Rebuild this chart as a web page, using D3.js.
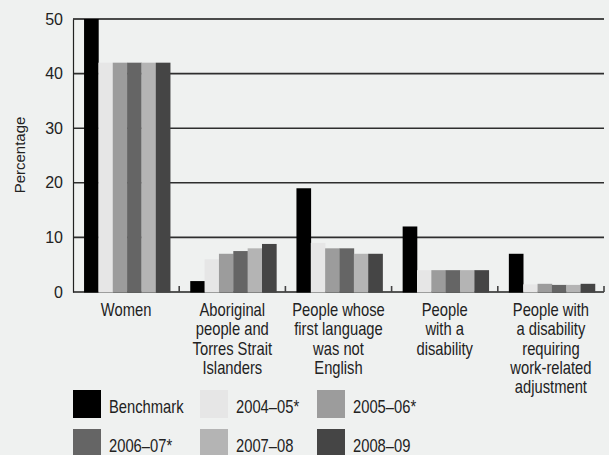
<!DOCTYPE html>
<html><head><meta charset="utf-8">
<script src="https://cdn.jsdelivr.net/npm/d3@7"></script>
<style>
html,body{margin:0;padding:0;background:#eff1f0;}
svg{display:block;}
text{font-family:"Liberation Sans",Arial,sans-serif;fill:#222;}
</style></head>
<body><svg id="c" width="609" height="455"></svg>
<script>
const categories = ["Women","Aboriginal people and Torres Strait Islanders","People whose first language was not English","People with a disability","People with a disability requiring work-related adjustment"];
const categoryLines = [["Women"],["Aboriginal","people and","Torres Strait","Islanders"],["People whose","first language","was not","English"],["People","with a","disability"],["People with","a disability","requiring","work-related","adjustment"]];
const seriesNames = ["Benchmark","2004–05*","2005–06*","2006–07*","2007–08","2008–09"];
const seriesColors = ["#000000","#e6e6e6","#9c9c9c","#656565","#b4b4b4","#454545"];
const benchmark = [50,2,19,12,7];
const v2004_05 = [42,6,9,4,1.4];
const v2005_06 = [42,7,8,4,1.5];
const v2006_07 = [42,7.5,8,4,1.3];
const v2007_08 = [42,8,7,4,1.3];
const v2008_09 = [42,8.8,7,4,1.5];
const yTicks = [0,10,20,30,40,50];
const yLabel = "Percentage";

(function(){
const seriesValues = [benchmark,v2004_05,v2005_06,v2006_07,v2007_08,v2008_09];
const svg = d3.select("#c");
const pLeft=73, pRight=604, pTop=19, pBottom=292;
const sx = 0.82;

const x0 = d3.scaleBand().domain(categories).range([pLeft,pRight]).padding(0);
const x1 = d3.scaleBand().domain(seriesNames).range([0,x0.bandwidth()]).paddingInner(0).paddingOuter(0.7).align(0.55);
const y = d3.scaleLinear().domain([0,50]).range([pBottom,pTop]);
const color = d3.scaleOrdinal().domain(seriesNames).range(seriesColors);

// gridlines
svg.append("g").selectAll("line").data(yTicks.filter(d=>d>0)).join("line")
  .attr("x1",pLeft).attr("x2",pRight).attr("y1",d=>y(d)).attr("y2",d=>y(d))
  .attr("stroke",d=>d===50?"#4a4a4a":"#2e2e2e").attr("stroke-width",d=>d===50?2:1.6);

// y axis
const yAxis = d3.axisLeft(y).tickValues(yTicks).tickSize(0).tickPadding(10).tickFormat(d3.format("d"));
const ya = svg.append("g").attr("transform",`translate(${pLeft},0)`).call(yAxis);
ya.select(".domain").attr("stroke","#222").attr("stroke-width",1.2);
ya.selectAll("text").style("font-size","16px").style("font-family","Liberation Sans, Arial, sans-serif").attr("fill","#222");

// x axis
const xa = svg.append("g").attr("transform",`translate(0,${pBottom})`);
xa.append("line").attr("x1",pLeft).attr("x2",pRight).attr("y1",0).attr("y2",0).attr("stroke","#222").attr("stroke-width",1.6);
xa.selectAll("line.tk").data(categories).join("line").attr("class","tk")
  .attr("x1",d=>x0(d)+x0.bandwidth()).attr("x2",d=>x0(d)+x0.bandwidth())
  .attr("y1",0).attr("y2",-6).attr("stroke","#444").attr("stroke-width",1.6);

// bars
const groups = svg.append("g").selectAll("g").data(categories).join("g")
  .attr("transform",d=>`translate(${x0(d)},0)`);
groups.selectAll("rect").data((d,i)=>seriesNames.map((s,j)=>({s,v:seriesValues[j][i]}))).join("rect")
  .attr("x",d=>x1(d.s)).attr("width",x1.bandwidth()+0.3)
  .attr("y",d=>y(d.v)).attr("height",d=>y(0)-y(d.v)+0.5)
  .attr("fill",d=>color(d.s));

// category labels
const cl = svg.append("g").selectAll("text").data(categories).join("text")
  .attr("text-anchor","middle").style("font-size","18px")
  .attr("transform",d=>`translate(${x0(d)+x0.bandwidth()/2},316) scale(${sx},1)`);
cl.selectAll("tspan").data((d,i)=>categoryLines[i]).join("tspan")
  .attr("x",0).attr("y",(d,i)=>i*19.3).text(d=>d);

// y label
svg.append("text").attr("transform","translate(25,155) rotate(-90)")
  .attr("text-anchor","middle").style("font-size","15px").text(yLabel);

// legend
const legX = [73,200,317], legY=[390,429];
const leg = svg.append("g").selectAll("g").data(seriesNames).join("g")
  .attr("transform",(d,i)=>`translate(${legX[i%3]},${legY[Math.floor(i/3)]})`);
leg.append("rect").attr("width",28).attr("height",28).attr("fill",d=>color(d));
leg.append("text").attr("transform",`translate(36,23) scale(${sx},1)`).style("font-size","18px").text(d=>d);
})();
</script></body></html>
